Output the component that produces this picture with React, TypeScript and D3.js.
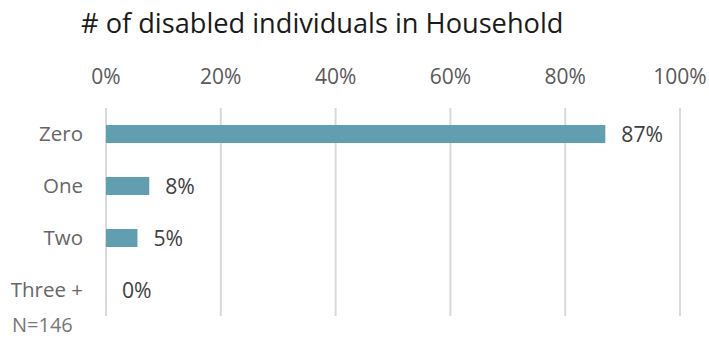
import React from "react";
import * as d3 from "d3";

const categories = ["Zero", "One", "Two", "Three +"];
const counts = [127, 11, 8, 0];
const totalN = 146;
const tickValues = [0, 0.2, 0.4, 0.6, 0.8, 1.0];
const title = "# of disabled individuals in Household";
const note = "N=146";

const W = 709;
const H = 339;
const FONT = "'Open Sans', 'Noto Sans', sans-serif";

export default function App() {
  const x = d3.scaleLinear().domain([0, 1]).range([106, 680]);
  const y = d3.scaleBand<string>().domain(categories).range([108, 316]).paddingInner(0.654).paddingOuter(0.327);
  const pct = d3.format(".0%");
  const values = counts.map((c) => c / totalN);

  return (
    <svg width={W} height={H} style={{ position: "absolute", left: 0, top: 0, background: "#fff" }}>
      <text x={81} y={33} fontFamily={FONT} fontSize={27.2} fill="#1a1a1a" fontWeight={400}>{title}</text>
      {tickValues.map((t) => (
        <g key={t}>
          <line x1={x(t)} x2={x(t)} y1={108} y2={316} stroke="#d9d9d9" strokeWidth={2} />
          <text x={x(t)} y={84} textAnchor="middle" fontFamily={FONT} fontSize={21} fill="#595959">{pct(t)}</text>
        </g>
      ))}
      {categories.map((c, i) => {
        const yy = y(c)!;
        const bw = y.bandwidth();
        const cy = yy + bw / 2;
        return (
          <g key={c}>
            {values[i] > 0 && (
              <rect x={x(0)} y={yy} width={x(values[i]) - x(0)} height={bw} fill="#609eb0" />
            )}
            <text x={83} y={cy + 7} textAnchor="end" fontFamily={FONT} fontSize={20.5} fill="#666666">{c}</text>
            <text x={x(values[i]) + 16} y={cy + 8} fontFamily={FONT} fontSize={21.2} fill="#404040">{pct(values[i])}</text>
          </g>
        );
      })}
      <text x={12} y={332} fontFamily={FONT} fontSize={20} fill="#777777">{note}</text>
    </svg>
  );
}
